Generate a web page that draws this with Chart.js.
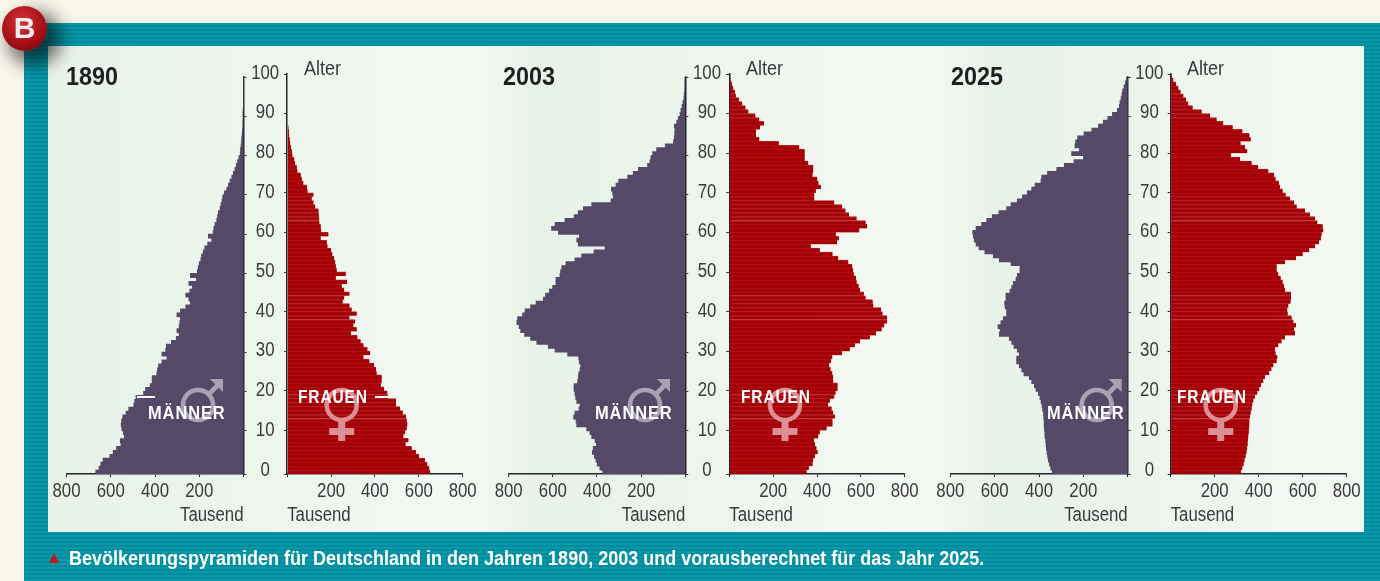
<!DOCTYPE html>
<html lang="de"><head><meta charset="utf-8"><title>Bevölkerungspyramiden</title>
<script src="https://cdn.jsdelivr.net/npm/chart.js@4"></script>
<style>
html,body{margin:0;padding:0;background:#f9f6ea}
#stage{position:relative;width:1380px;height:581px;overflow:hidden;background:#f9f6ea;font-family:"Liberation Sans",sans-serif}
#frame{position:absolute;left:24px;top:23px;right:0;bottom:0;background:repeating-linear-gradient(180deg,#0a98a8 0,#0a98a8 2px,#018d9e 2px,#018d9e 4px)}
#panel{position:absolute;left:48px;top:46px;width:1316px;height:486px;background:linear-gradient(90deg,#eaf3ea 0,#e9f3e9 60px,#f3f8f2 400px,#f4f8f2 425px,#e8f2e8 490px,#f3f8f2 840px,#f4f8f2 875px,#e8f2e8 950px,#f4f8f3 1316px)}
canvas{position:absolute}
.t{position:absolute;white-space:nowrap;line-height:1;transform-origin:0 50%}
.yr{font-weight:bold;font-size:26px;color:#1f1f24;transform:scaleX(.9)}
.alt{font-size:20px;color:#3a3a3e;transform:scaleX(.9)}
.lab{font-weight:bold;font-size:18.5px;color:#fff;letter-spacing:1px}
.dash{position:absolute;height:2px;background:#fff}
#cap{left:69px;top:548px;font-weight:bold;font-size:20px;color:#fff;transform:scaleX(.9)}
#tri{position:absolute;left:49px;top:553px;width:0;height:0;border-left:5.5px solid transparent;border-right:5.5px solid transparent;border-bottom:10px solid #c1141f}
#badge{position:absolute;left:2px;top:6px;width:45px;height:45px;border-radius:50%;background:radial-gradient(circle at 45% 35%,#d8353c 0,#a80f16 55%,#6a0409 100%);box-shadow:10px 10px 18px 4px rgba(0,0,0,.6);color:#f4ecec;font:bold 30px "Liberation Sans",sans-serif;text-align:center;line-height:43px}
svg{position:absolute;left:0;top:0}
</style></head><body>
<div id="stage"><div id="frame"></div><div id="panel"></div><div id="charts"></div>
<svg width="1380" height="581" id="sym"></svg>
<div id="badge">B</div><div id="tri"></div>
<div class="t" id="cap">Bevölkerungspyramiden für Deutschland in den Jahren 1890, 2003 und vorausberechnet für das Jahr 2025.</div>
</div>
<script>
const ages = Array.from({length:101},(_,i)=>i);
const yearLabels = ['1890','2003','2025'];
const yTicks = [0,10,20,30,40,50,60,70,80,90,100];
const men1890 = [668,653,645,635,604,589,574,554,557,539,543,550,553,551,546,531,519,496,492,486,452,443,422,413,413,392,389,384,369,346,369,352,349,326,304,291,301,291,288,285,301,285,261,240,247,261,243,231,247,213,240,209,205,200,193,190,182,175,162,144,159,137,134,129,121,118,114,106,102,97,94,87,76,68,61,53,46,39,33,27,21,15,14,11,9,8,6,5,3,3,2,2,1,0,0,0,0,0,0,0,0];
const women1890 = [651,648,639,628,601,587,568,540,553,530,537,545,548,545,542,527,515,496,496,460,457,442,427,431,431,408,405,396,375,348,378,366,348,335,320,291,317,302,310,284,317,294,284,253,260,284,260,249,273,222,267,226,222,219,214,206,200,184,181,153,188,155,153,147,146,144,143,128,120,112,120,93,90,74,67,62,47,44,36,32,24,21,17,14,12,9,8,6,0,0,0,0,0,0,0,0,0,0,0,0,0];
const men2003 = [374,387,399,405,412,421,417,403,409,424,432,447,492,495,506,500,482,477,492,497,500,504,504,488,485,483,477,474,480,483,533,590,621,673,701,728,746,753,763,760,737,726,701,676,643,633,616,601,586,586,568,565,560,541,500,470,414,364,485,492,480,575,606,590,545,504,485,462,424,337,326,329,335,314,302,261,236,213,171,160,156,148,130,91,54,50,48,47,50,39,32,24,20,15,11,6,5,3,2,2,1];
const women2003 = [353,363,380,383,391,403,398,391,386,406,413,444,471,471,482,474,467,451,459,479,485,494,494,474,474,470,462,456,464,470,515,550,573,596,641,669,695,707,720,720,699,692,657,654,622,614,596,590,581,578,568,565,561,543,497,471,413,372,492,500,486,593,629,622,581,546,530,515,479,388,388,395,418,407,401,380,383,383,360,344,344,344,319,226,137,122,122,140,158,137,119,87,74,59,44,30,26,18,12,6,3];
const men2025 = [340,347,353,358,361,364,367,368,370,373,374,376,377,377,379,380,384,387,391,396,403,414,421,433,444,468,478,489,501,501,489,498,513,523,534,579,576,585,572,561,546,546,553,555,549,549,531,523,516,504,498,486,486,526,579,606,644,671,684,692,696,699,684,659,636,611,581,546,526,498,475,453,433,418,391,388,362,320,286,242,200,253,218,238,235,226,197,162,132,110,90,69,47,38,35,30,26,23,17,11,6];
const women2025 = [320,326,332,336,341,345,348,350,351,353,355,356,358,358,361,364,368,371,376,383,394,403,411,421,429,448,458,467,482,485,477,474,489,504,520,565,561,570,558,550,532,530,535,545,547,547,520,515,509,500,489,482,482,520,570,600,630,656,674,683,686,694,691,667,656,633,611,573,561,542,523,509,497,492,477,470,444,398,368,315,274,348,338,318,364,358,326,282,239,209,179,141,100,80,70,58,45,35,24,12,6];
const menSeries = [men1890,men2003,men2025];
const womenSeries = [women1890,women2003,women2025];

const FONT = '"Liberation Sans",sans-serif';
const INK = '#3a3a3e', AXIS = '#26262c';
const MALE = '#544a68', FEMALE = '#a50006', FEMALE_LINE = '#b81a20';
const TOP = 60, BOTTOM = 530, PLOT_TOP = 74, AXIS_H = 56, NARROW = 0.84;
const layouts = [
 {x800m:66.5, axM:243.5, axF:287.2, x800f:462.7, year:66, alter:304, men:[148,413], wom:[298,397], symM:198, symF:341.7},
 {x800m:508.7,axM:685.3, axF:729.3, x800f:904.7, year:503,alter:746, men:[595,413], wom:[741,397], symM:645, symF:785},
 {x800m:950.3,axM:1127.7,axF:1170.7,x800f:1346.7,year:951,alter:1187,men:[1047,413],wom:[1177,397],symM:1096.7,symF:1220.7}
];
const narrowText = {id:'narrowText',beforeInit(chart){
  const c=chart.ctx, orig=c.fillText.bind(c);
  c.fillText=function(t,x,y,m){c.save();c.translate(x,y);c.scale(NARROW,1);orig(t,0,0);c.restore();};
}};
const charts = document.getElementById('charts'), stage = document.getElementById('stage');
function mk(l,w){const c=document.createElement('canvas');c.width=Math.round(w);c.height=BOTTOM-TOP;c.style.left=l+'px';c.style.top=TOP+'px';c.style.width=Math.round(w)+'px';c.style.height=(BOTTOM-TOP)+'px';charts.appendChild(c);return c;}
function barTicks(s){s.ticks=[-1,10,20,30,40,50,60,70,80,90,100].map(v=>({value:v}));}
function xAxis(min,max,align){return {type:'linear',min,max,
  ticks:{stepSize:200,autoSkip:false,maxRotation:0,padding:2,color:INK,font:{family:FONT,size:20},callback:v=>v===0?'':String(Math.abs(v))},
  grid:{display:true,drawOnChartArea:false,drawTicks:true,tickLength:3,color:AXIS},
  border:{display:true,color:AXIS,width:1.5},
  title:{display:true,text:'Tausend',align,color:INK,font:{family:FONT,size:20},padding:{top:0,bottom:3}},
  afterFit:s=>{s.height=AXIS_H;}};}
function yAxis(position){return {type:'linear',position,min:-1,max:100,offset:false,afterBuildTicks:barTicks,
  ticks:{display:false,autoSkip:false},
  grid:{display:true,offset:false,drawOnChartArea:false,drawTicks:true,tickLength:3,color:AXIS},
  border:{display:true,color:AXIS,width:1.5},afterFit:s=>{s.width=0;}};}
function bars(vals,sign,color,label,extra){return Object.assign({label,data:ages.map((a,i)=>({x:sign*vals[i],y:a-0.5})),backgroundColor:color,barThickness:4.1,borderWidth:0},extra||{});}
const base={responsive:false,animation:false,indexAxis:'y',plugins:{legend:{display:false},tooltip:{enabled:false},title:{display:false}}};
layouts.forEach((L,k)=>{
  const mLeft=Math.floor(L.x800m-20), mW=L.axM+40-mLeft;
  new Chart(mk(mLeft,mW),{type:'bar',plugins:[narrowText],data:{datasets:[bars(menSeries[k],-1,MALE,'Männer '+yearLabels[k])]},
   options:Object.assign({},base,{layout:{padding:{left:L.x800m-mLeft,top:PLOT_TOP-TOP,right:Math.round(mW)-mW,bottom:0}},
    scales:{x:xAxis(-800,0,'end'),y:yAxis('right'),
      yLab:{type:'linear',position:'right',min:0,max:100,display:true,offset:false,
        afterBuildTicks:s=>{s.ticks=yTicks.map(v=>({value:v}));},
        ticks:{autoSkip:false,labelOffset:-4,crossAlign:'center',padding:5,color:INK,font:{family:FONT,size:20}},
        grid:{display:false,drawTicks:false,offset:false},border:{display:false},afterFit:s=>{s.width=40;}}}})});
  const fLeft=Math.floor(L.axF-6), fW=Math.round(L.x800f+24-fLeft);
  new Chart(mk(fLeft,fW),{type:'bar',plugins:[narrowText],data:{datasets:[bars(womenSeries[k],1,FEMALE,'Frauen '+yearLabels[k],{borderColor:FEMALE_LINE,borderWidth:{top:1,bottom:0,left:0,right:0},borderSkipped:false})]},
   options:Object.assign({},base,{layout:{padding:{left:L.axF-fLeft,top:PLOT_TOP-TOP,right:fW-(L.x800f-fLeft),bottom:0}},
    scales:{x:xAxis(0,800,'start'),y:yAxis('left')}})});
  const add=(cls,txt,x,y,sx)=>{const d=document.createElement('div');d.className='t '+cls;d.textContent=txt;d.style.left=x+'px';d.style.top=y+'px';if(sx)d.style.transform='scaleX('+sx+')';stage.appendChild(d);return d;};
  add('yr',yearLabels[k],L.year,63);
  add('alt','Alter',L.alter,58);
  add('lab','MÄNNER',L.men[0],L.men[1]-9,.89);
  add('lab','FRAUEN',L.wom[0],L.wom[1]-9,.84);
  const s=document.getElementById('sym');
  s.insertAdjacentHTML('beforeend',`<g fill="none" stroke="#a8a2b2" stroke-width="4.6"><circle cx="${L.symM}" cy="405" r="15"/><path d="M${L.symM+10.5} 394.5L${L.symM+22} 383"/></g><path fill="#a8a2b2" d="M${L.symM+12} 379H${L.symM+25}V392Z"/>`);
  s.insertAdjacentHTML('beforeend',`<g fill="none" stroke="#dc8f94" stroke-width="4.6"><circle cx="${L.symF}" cy="405" r="15"/></g><path fill="#dc8f94" d="M${L.symF-3.5} 421h7v7h9v7h-9v6h-7v-6h-9v-7h9z"/>`);
});
[[137,18],[375,13]].forEach(d=>{const e=document.createElement('div');e.className='dash';e.style.left=d[0]+'px';e.style.width=d[1]+'px';e.style.top='396px';stage.appendChild(e);});
</script></body></html>
